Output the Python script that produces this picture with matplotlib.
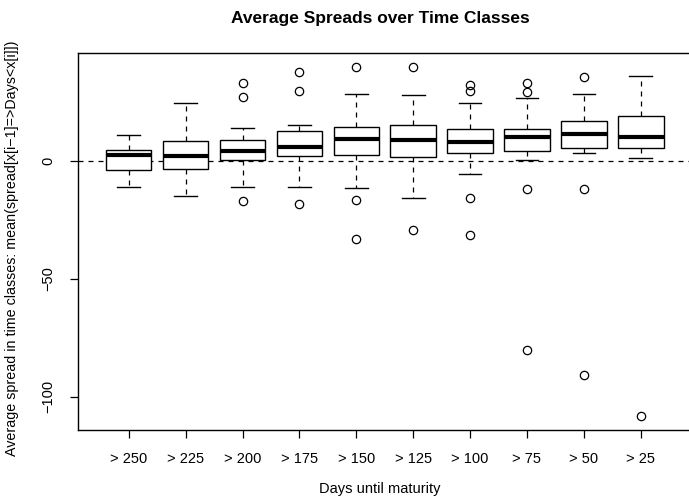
import matplotlib
matplotlib.use("Agg")
import matplotlib.pyplot as plt

plt.rcParams['font.family'] = ['Liberation Sans', 'DejaVu Sans']

categories = ["> 250", "> 225", "> 200", "> 175", "> 150", "> 125", "> 100", "> 75", "> 50", "> 25"]
q1 = [-4.1, -3.5, 0.3, 2.1, 2.4, 1.4, 3.4, 4.2, 5.4, 5.4]
med = [2.4, 2.1, 4.2, 5.9, 9.2, 8.6, 7.9, 9.9, 11.3, 10.0]
q3 = [4.5, 8.2, 8.6, 12.6, 14.4, 15.0, 13.3, 13.6, 16.8, 18.8]
whislo = [-11.3, -15.0, -11.0, -11.0, -11.4, -15.8, -5.5, 0.3, 3.3, 1.0]
whishi = [11.0, 24.3, 13.7, 15.3, 28.4, 27.8, 24.3, 26.6, 28.4, 36.0]
outliers = [
    [],
    [],
    [33.1, 27.1, -16.9],
    [37.6, 29.7, -18.3],
    [39.8, -16.5, -33.2],
    [39.6, -29.4],
    [32.1, 29.4, -15.7, -31.5],
    [32.8, 29.1, -11.9, -80.2],
    [35.3, -11.9, -90.7],
    [-108.2],
]
yticks = [0, -50, -100]

stats = []
for i in range(len(categories)):
    stats.append(dict(med=med[i], q1=q1[i], q3=q3[i], whislo=whislo[i],
                      whishi=whishi[i], fliers=outliers[i], label=categories[i]))

fig = plt.figure(figsize=(6.89, 5.03), dpi=100)
ax = fig.add_axes([77.5 / 689, 1 - 430 / 503, (692 - 77.5) / 689, (430 - 52.7) / 503])

ax.axhline(0, color='black', linestyle=(0, (4, 4)), linewidth=0.9, zorder=0)

ax.bxp(stats, positions=range(1, 11), widths=0.8, patch_artist=True,
       boxprops=dict(facecolor='white', edgecolor='black', linewidth=1.0),
       medianprops=dict(color='black', linewidth=3.0, solid_capstyle='butt'),
       whiskerprops=dict(color='black', linestyle=(0, (4, 4)), linewidth=0.9),
       capprops=dict(color='black', linewidth=1.0),
       capwidths=0.4,
       flierprops=dict(marker='o', markerfacecolor='none', markeredgecolor='black',
                       markersize=6, markeredgewidth=0.9))

ax.set_xlim(0.1, 10.9)
ax.set_ylim(-114.1, 45.8)
ax.set_xticks(range(1, 11))
ax.set_xticklabels(categories)
ax.set_yticks(yticks)
ax.set_yticklabels([str(v).replace('-', '\u2212') for v in yticks], rotation=90, va='center')
ax.tick_params(axis='both', labelsize=10.5, length=6, width=0.9, color='black')
ax.tick_params(axis='x', pad=10)
ax.tick_params(axis='y', pad=10)
for s in ax.spines.values():
    s.set_linewidth(1.0)
    s.set_color('black')

fig.text(380 / 689, 1 - 18 / 503, "Average Spreads over Time Classes", ha='center', va='center',
         fontsize=12.5, fontweight='bold')
fig.text(380 / 689, 1 - 489 / 503, "Days until maturity", ha='center', va='center', fontsize=10.5)
fig.text(12 / 689, 1 - 248 / 503, "Average spread in time classes: mean(spread[x[i\u22121]=>Days<x[i]])",
         ha='center', va='center', rotation=90, fontsize=10.3)

fig.savefig("out.png", dpi=100)
